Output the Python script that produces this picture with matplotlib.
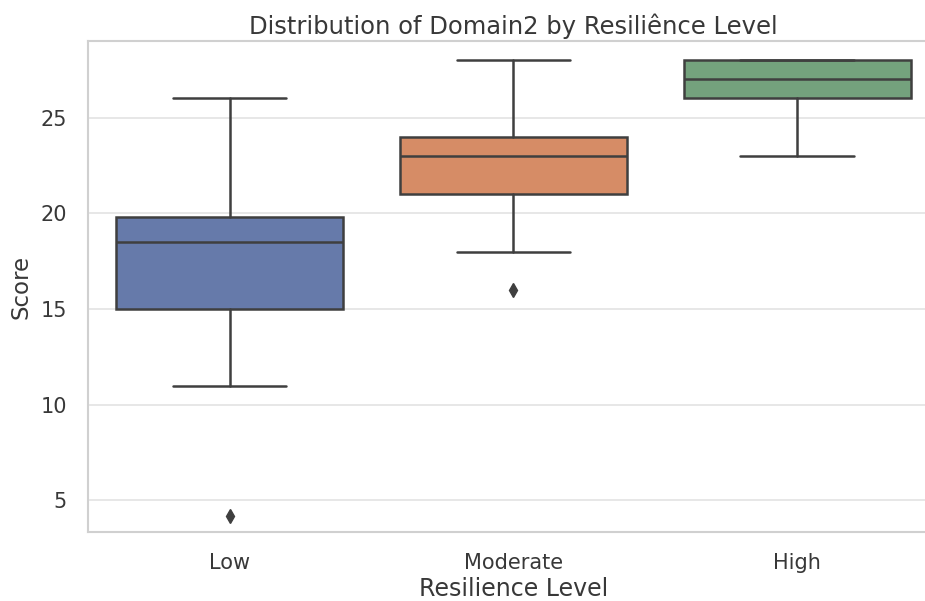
import matplotlib
matplotlib.use("Agg")
import matplotlib.pyplot as plt
import seaborn as sns

# box statistics
levels = ["Low", "Moderate", "High"]
medians = [18.5, 23.0, 27.0]
q1 = [15.0, 21.0, 26.0]
q3 = [19.8, 24.0, 28.0]
whisker_lo = [11.0, 18.0, 23.0]
whisker_hi = [26.0, 28.0, 28.0]
outliers = [[4.2], [16.0], []]
colors = ["#667aaa", "#d68c66", "#74a27d"]

sns.set_theme(style="whitegrid", font_scale=1.0)
plt.rcParams["font.family"] = ["DejaVu Sans"]

fig = plt.figure(figsize=(9.25, 6.01), dpi=100)
ax = fig.add_axes([0.095, 0.1148, 0.92, 0.817])

stats = []
for i, name in enumerate(levels):
    stats.append({
        "label": name, "med": medians[i], "q1": q1[i], "q3": q3[i],
        "whislo": whisker_lo[i], "whishi": whisker_hi[i], "fliers": outliers[i],
    })

line_col = "#3f3f3f"
bp = ax.bxp(stats, positions=range(len(levels)), widths=0.8, patch_artist=True,
            showfliers=True,
            boxprops=dict(edgecolor=line_col, linewidth=1.8),
            medianprops=dict(color=line_col, linewidth=1.8),
            whiskerprops=dict(color=line_col, linewidth=1.8),
            capprops=dict(color=line_col, linewidth=1.8),
            flierprops=dict(marker="d", markerfacecolor=line_col,
                            markeredgecolor=line_col, markersize=7))
for patch, c in zip(bp["boxes"], colors):
    patch.set_facecolor(c)

# caps as wide as half the box, like seaborn
for i, cap in enumerate(bp["caps"]):
    pos = i // 2
    cap.set_xdata([pos - 0.2, pos + 0.2])

ax.set_xlim(-0.5, 2.5)
ax.set_ylim(3.35, 29.0)
ax.set_yticks([5, 10, 15, 20, 25])
ax.set_xticks(range(len(levels)))
ax.set_xticklabels(levels)
ax.grid(axis="x", visible=False)
ax.grid(axis="y", color="#e3e3e3", linewidth=1.2)
for s in ax.spines.values():
    s.set_color("#d0d0d0")
    s.set_linewidth(1.5)

ax.tick_params(axis="both", labelsize=15, labelcolor="#383838", pad=9)
ax.set_title("Distribution of Domain2 by Resiliênce Level", fontsize=17.5,
             color="#383838", pad=5)
ax.set_ylabel("Score", fontsize=16.5, color="#383838", labelpad=6)
ax.set_xlabel("Resilience Level", fontsize=17, color="#383838", labelpad=3)

fig.savefig("out.png", dpi=100)
